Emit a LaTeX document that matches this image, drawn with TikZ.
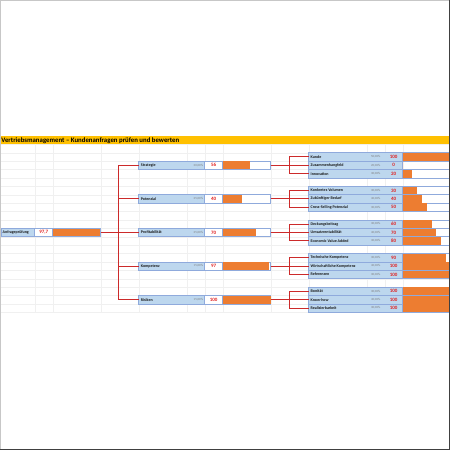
\documentclass[tikz,border=0pt]{standalone}
\usepackage{fontspec}
\setmainfont{Carlito}
\usetikzlibrary{calc}
\definecolor{titleor}{HTML}{FFC000}
\definecolor{cellblue}{HTML}{BDD7EE}
\definecolor{baror}{HTML}{ED7D31}
\definecolor{frameb}{HTML}{8FAADC}
\definecolor{valred}{HTML}{E02020}
\definecolor{connred}{HTML}{CC2A2A}
\definecolor{gridc}{HTML}{F0F0F0}
\newcommand\LvlOne[6]{%
  \node[bluecell, minimum width=66] (#1) at (138.7,#2) {};
  \node[lbl] (#1t) at (140.7,#2) {#3};
  \node[pct, anchor=east] (#1p) at (203.2,#2) {#4};
  \node[whitecell, minimum width=18] (#1v) at (204.7,#2) {};
  \node[val] (#1n) at (#1v.center) {#5};
  \node[whitecell, minimum width=48] (#1f) at (222.7,#2) {};
  \node[barfill, minimum width=#6] (#1b) at (#1f.west) {};
}
\newcommand\LvlTwo[6]{%
  \node[bluecell, minimum width=94] (#1) at (308.7,#2) {};
  \node[lbl] (#1t) at (310.5,#2) {#3};
  \node[pct] (#1p) at (375.7,#2) {#4};
  \node[val] (#1n) at (393.7,#2) {#5};
  \node[whitecell, minimum width=48] (#1f) at (402.7,#2) {};
  \node[barfill, minimum width=#6] (#1b) at (#1f.west) {};
}
\begin{document}
\begin{tikzpicture}[x=1pt,y=-1pt,
  gridline/.style={draw=gridc, line width=0.4},
  lbl/.style={anchor=west, inner sep=0, font=\fontsize{4}{4}\selectfont\bfseries, text=black!90},
  pct/.style={inner sep=0, font=\fontsize{3.1}{3.1}\selectfont, text=black!50},
  val/.style={inner sep=0, font=\fontsize{5}{5}\selectfont\bfseries, text=valred},
  bluecell/.style={fill=cellblue, draw=frameb, line width=0.6, anchor=west, minimum height=8.4, inner sep=0, outer sep=0},
  whitecell/.style={fill=white, draw=frameb, line width=0.6, anchor=west, minimum height=8.4, inner sep=0, outer sep=0},
  barfill/.style={fill=baror, anchor=west, minimum height=7.8, inner sep=0, outer sep=0},
  conn/.style={draw=connred, line width=1},
]
\useasboundingbox (0,0) rectangle (450,450);
\fill[white] (0,0) rectangle (450,450);
% grid
\foreach \x in {34.7,52.7,100.7,138.7,186.7,204.7,222.7,270.7,308.7,366.7,384.7,402.7}
  \draw[gridline] (\x,144.3) -- (\x,312.3);
\foreach \k in {0,...,20}
  \draw[gridline] (0,{144.3+8.4*\k}) -- (450,{144.3+8.4*\k});
% title
\fill[titleor] (0,135.9) rectangle (450,144.3);
\node[anchor=west, inner sep=0, font=\fontsize{6.8}{6.8}\selectfont\bfseries] (title) at (1.2,140.3) {Vertriebsmanagement – Kundenanfragen prüfen und bewerten};
% root
\node[bluecell, minimum width=33.7] (root) at (1,232.5) {};
\node[lbl] (roott) at (2.5,232.5) {Anfrageprüfung};
\node[whitecell, minimum width=18] (rootv) at (34.7,232.5) {};
\node[val] (rootn) at (rootv.center) {97,7};
\node[whitecell, minimum width=48] (rootf) at (52.7,232.5) {};
\node[barfill, minimum width=46.9] (rootb) at (rootf.west) {};
% level 1
\LvlOne{s}{165.3}{Strategie}{20,00\%}{56}{26.9}
\LvlOne{p}{198.9}{Potenzial}{25,00\%}{40}{19.2}
\LvlOne{f}{232.5}{Profitabilität}{25,00\%}{70}{33.6}
\LvlOne{k}{266.1}{Kompetenz}{15,00\%}{97}{46.6}
\LvlOne{r}{299.7}{Risiken}{15,00\%}{100}{48}
% level 2
\LvlTwo{a1}{156.9}{Kunde}{50,00\%}{100}{48}
\LvlTwo{a2}{165.3}{Zusammenhangfeld}{20,00\%}{0}{0}
\LvlTwo{a3}{173.7}{Innovation}{30,00\%}{20}{9.6}
\LvlTwo{b1}{190.5}{Konkretes Volumen}{30,00\%}{30}{14.4}
\LvlTwo{b2}{198.9}{Zukünftiger Bedarf}{40,00\%}{40}{19.2}
\LvlTwo{b3}{207.3}{Cross-Selling Potenzial}{30,00\%}{50}{24}
\LvlTwo{c1}{224.1}{Deckungsbeitrag}{30,00\%}{60}{28.8}
\LvlTwo{c2}{232.5}{Umsatzrentabilität}{40,00\%}{70}{33.6}
\LvlTwo{c3}{240.9}{Economic Value Added}{30,00\%}{80}{38.4}
\LvlTwo{d1}{257.7}{Technische Kompetenz}{30,00\%}{90}{43.2}
\LvlTwo{d2}{266.1}{Wirtschaftliche Kompetenz}{40,00\%}{100}{48}
\LvlTwo{d3}{274.5}{Referenzen}{30,00\%}{100}{48}
\LvlTwo{e1}{291.3}{Bonität}{30,00\%}{100}{48}
\LvlTwo{e2}{299.7}{Know-how}{40,00\%}{100}{48}
\LvlTwo{e3}{308.1}{Realisierbarkeit}{30,00\%}{100}{48}
% connectors
\coordinate (j0) at (118.7,232.5);
\draw[conn] (rootf.east) -- (j0);
\foreach \n in {s,p,f,k,r} \draw[conn] (j0) |- (\n.west);
\foreach \n/\a/\b/\c in {s/a1/a2/a3, p/b1/b2/b3, f/c1/c2/c3, k/d1/d2/d3, r/e1/e2/e3} {
  \coordinate (j\n) at ($(\n f.east)+(18.3,0)$);
  \draw[conn] (\n f.east) -- (j\n);
  \draw[conn] (j\n) |- (\a.west);
  \draw[conn] (j\n) |- (\b.west);
  \draw[conn] (j\n) |- (\c.west);
}
% frame
\draw[black!22, line width=1] (0.5,450) -- (0.5,0.5) -- (450,0.5);
\draw[black!75, line width=1] (449.5,0) -- (449.5,449.5) -- (0,449.5);
\end{tikzpicture}
\end{document}
